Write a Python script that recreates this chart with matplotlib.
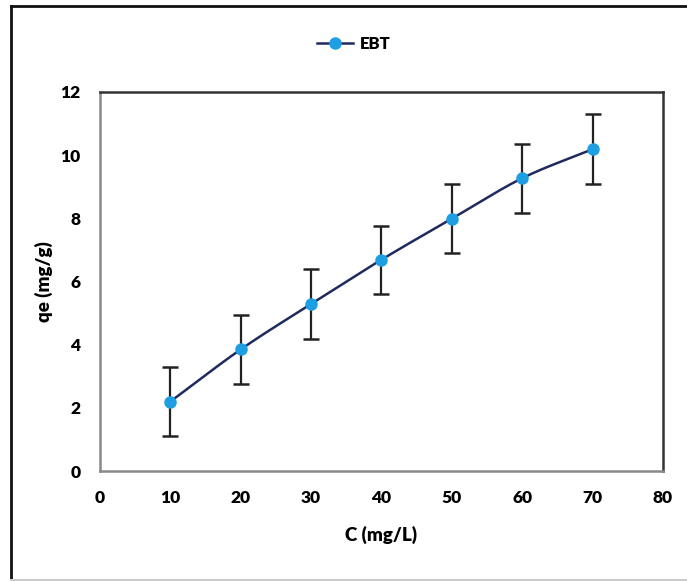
import numpy as np
import matplotlib
matplotlib.use("Agg")
import matplotlib.pyplot as plt
from matplotlib.lines import Line2D

conc = [10, 20, 30, 40, 50, 60, 70]
qe = [2.2, 3.85, 5.29, 6.69, 7.99, 9.27, 10.19]
err = [1.08, 1.08, 1.1, 1.08, 1.09, 1.09, 1.1]
series_name = "EBT"
xticks = [0, 10, 20, 30, 40, 50, 60, 70, 80]
yticks = [0, 2, 4, 6, 8, 10, 12]

plt.rcParams['font.family'] = ['Lato', 'DejaVu Sans']
plt.rcParams['font.weight'] = 'bold'

fig = plt.figure(figsize=(6.87, 5.81), dpi=100)
ax = fig.add_axes([0.1456, 0.1893, 0.8194, 0.6524])

def smooth(xs, ys, n=30):
    xs = np.asarray(xs, float); ys = np.asarray(ys, float)
    P = np.column_stack([xs, ys])
    P = np.vstack([2 * P[0] - P[1], P, 2 * P[-1] - P[-2]])
    out = []
    for i in range(1, len(P) - 2):
        p0, p1, p2, p3 = P[i - 1], P[i], P[i + 1], P[i + 2]
        t = np.linspace(0, 1, n)[:, None]
        seg = 0.5 * ((2 * p1) + (-p0 + p2) * t + (2 * p0 - 5 * p1 + 4 * p2 - p3) * t ** 2
                     + (-p0 + 3 * p1 - 3 * p2 + p3) * t ** 3)
        out.append(seg)
    S = np.vstack(out)
    return S[:, 0], S[:, 1]

sx, sy = smooth(conc, qe)
ax.plot(sx, sy, color='#1F2A5E', lw=1.8, zorder=2)
ax.errorbar(conc, qe, yerr=err, fmt='none', ecolor='#222222', elinewidth=1.6,
            capsize=5.5, capthick=1.8, zorder=3)
ax.plot(conc, qe, linestyle='none', marker='o', markersize=8,
        markerfacecolor='#1E9FE3', markeredgecolor='#1E9FE3', zorder=4)

ax.set_xlim(0, 80)
ax.set_ylim(0, 12)
ax.set_xticks(xticks)
ax.set_yticks(yticks)
ax.tick_params(length=0, labelsize=12.5)
for lab in ax.get_xticklabels() + ax.get_yticklabels():
    lab.set_fontweight('heavy')
ax.tick_params(axis='x', pad=14)
ax.tick_params(axis='y', pad=14)

ax.spines['left'].set_color('#888888')
ax.spines['bottom'].set_color('#888888')
ax.spines['top'].set_color('#333333')
ax.spines['right'].set_color('#333333')
for s in ax.spines.values():
    s.set_linewidth(1.8)

ax.set_xlabel('C (mg/L)', fontsize=13.5, fontweight='heavy', labelpad=14)
ax.set_ylabel('qe (mg/g)', fontsize=13.5, fontweight='heavy', labelpad=5)

handle = Line2D([], [], color='#1F2A5E', lw=1.8, marker='o', markersize=8,
                markerfacecolor='#1E9FE3', markeredgecolor='#1E9FE3')
fig.legend([handle], [series_name], loc='center', bbox_to_anchor=(0.515, 0.925),
           frameon=False, prop={'size': 12, 'weight': 'heavy'}, handlelength=2.2,
           handletextpad=0.4)

fig.add_artist(Line2D([0.016, 0.016], [0.0017, 0.9897], transform=fig.transFigure,
                      color='#111111', lw=2))
fig.add_artist(Line2D([0.016, 1.0], [0.9897, 0.9897], transform=fig.transFigure,
                      color='#111111', lw=2))
fig.add_artist(Line2D([0.016, 1.0], [0.0017, 0.0017], transform=fig.transFigure,
                      color='#cccccc', lw=1.5))

fig.savefig('out.png', dpi=100)
